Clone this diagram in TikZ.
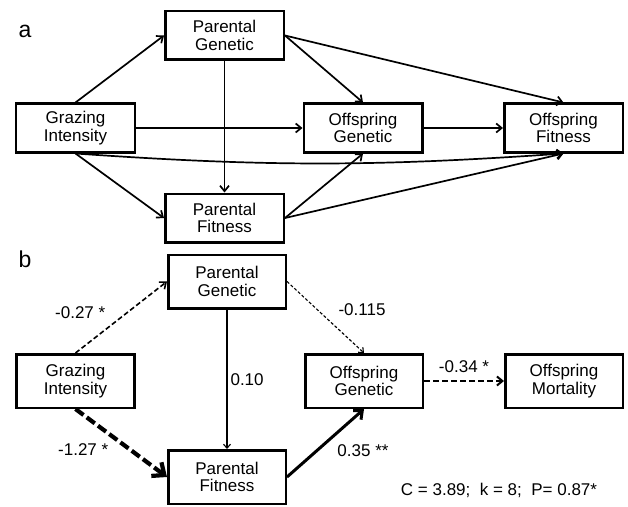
\documentclass[tikz,border=0pt]{standalone}
\usepackage{fontspec}
\setmainfont{Liberation Sans}
\usepackage{tikz}
\usetikzlibrary{positioning}
\usetikzlibrary{arrows.meta}
\newcommand{\boxfont}{\fontsize{17bp}{17.5bp}\selectfont}

\begin{document}
\begin{tikzpicture}[on grid,>={Straight Barb[length=5.5bp,width=9bp]},font=\boxfont,
		var/.style={rectangle,draw=black,line width=2.5bp,align=center,inner sep=2pt,minimum width=118.5bp,minimum height=48.5bp},
		varb/.style={var,minimum width=117.5bp,minimum height=53.5bp},
		panel/.style={font=\fontsize{23bp}{23bp}\selectfont},
		link/.style={->,line width=1.7bp},
		negdash/.style={->,dash pattern=on 5bp off 2.7bp,line width=1.6bp},
		negheavy/.style={-{Straight Barb[length=10bp,width=17bp]},dash pattern=on 10bp off 4bp,line width=4.2bp},
		poslight/.style={-{Straight Barb[length=4bp,width=7bp]},line width=1.1bp},
		neglight/.style={-{Straight Barb[length=4bp,width=7bp]},dash pattern=on 3bp off 2bp,line width=1.1bp},
		posheavy/.style={-{Straight Barb[length=7bp,width=12bp]},line width=3bp},
		negmid/.style={->,dash pattern=on 6bp off 3bp,line width=2bp}]
		\useasboundingbox (-75.5bp,128bp) rectangle (552.5bp,-379bp);
		
		% a
		\node[var]    (graze)                                         {Grazing\\Intensity};
		\node[var]    (pgen)   [above right=92.5bp and 149bp of graze] {Parental\\Genetic};
		\node[var]    (pfit)   [below=182.5bp of pgen]                 {Parental\\Fitness};
		\node[var]    (ogen)   [right=287.5bp of graze]                {Offspring\\Genetic};
		\node[var]    (ofit)   [right=200.5bp of ogen]                 {Offspring\\Fitness};
		\node[panel]  (lbla)   at (-50.5bp,96.5bp)                    {a};
		
		\path[link]
		(graze.north) edge (pgen.west)
		(graze.south) edge (pfit.west)
		(graze) edge (ogen)
		(graze.south) edge[out=-4,in=184] (ofit.south)
		(pgen) edge (pfit)
		(pgen.east) edge (ogen.north)
		(pgen.east) edge (ofit.north)
		(pfit.east) edge (ogen.south)
		(pfit.east) edge (ofit.south)
		(ogen) edge (ofit);
		
		% b
		\node[varb]   (graze2)  [below=253bp of graze]                      {Grazing\\Intensity};
		\node[varb]   (pgen2)   [above right=99.5bp and 151.5bp of graze2]  {Parental\\Genetic};
		\node[varb]   (pfit2)   [below=195.5bp of pgen2]                    {Parental\\Fitness};
		\node[varb]   (ogen2)   [right=288.5bp of graze2]                   {Offspring\\Genetic};
		\node[varb]   (omort2)  [right=200bp of ogen2]                      {Offspring\\Mortality};
		\node[panel]  (lblb)    at (-50.5bp,-131bp)                        {b};
		
		\path
		(graze2.north) edge[negdash] node[xshift=-41bp,yshift=5bp] (w1) {-0.27 *} (pgen2.west)
		(graze2.south) edge[negheavy] node[xshift=-38bp,yshift=-7bp] (w2) {-1.27 *} (pfit2.west)
		(pgen2) edge[poslight] node[right,inner sep=3bp] (w3) {0.10} (pfit2)
		(pgen2.east) edge[neglight] node[xshift=36.5bp,yshift=8bp] (w4) {-0.115} (ogen2.north)
		(pfit2.east) edge[posheavy] node[xshift=37.5bp,yshift=-7.5bp] (w5) {0.35 **} (ogen2.south)
		(ogen2) edge[negmid] node[yshift=14bp] (w6) {-0.34 *} (omort2);
		
		\node (fitstat) at (423.5bp,-362bp) {C = 3.89;~~k = 8;~~P= 0.87*};
\end{tikzpicture}
\end{document}
